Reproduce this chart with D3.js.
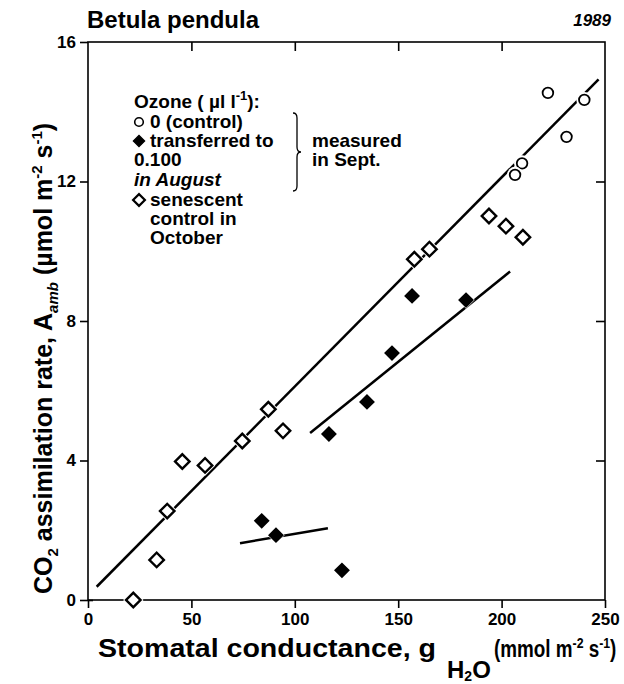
<!DOCTYPE html>
<html>
<head>
<meta charset="utf-8">
<script src="https://cdn.jsdelivr.net/npm/d3@7"></script>
<style>
  body { margin: 0; background: #fff; }
  svg { font-family: "Liberation Sans", Arial, sans-serif; font-weight: bold; }
</style>
</head>
<body>
<div id="chart"></div>
<script>
// stomatal conductance (x) and CO2 assimilation (y)
const controlG = [222.4, 240.0, 231.4, 209.9, 206.5];
const controlA = [14.54, 14.34, 13.28, 12.52, 12.19];

const ozoneG = [84.0, 90.9, 122.8, 116.5, 134.9, 147.0, 156.7, 182.8];
const ozoneA = [2.27, 1.86, 0.85, 4.76, 5.68, 7.08, 8.72, 8.60];

const senescG = [21.9, 33.2, 38.3, 45.6, 56.6, 74.6, 87.2, 94.3, 157.8, 165.1, 193.9, 202.1, 210.3];
const senescA = [0, 1.15, 2.55, 3.97, 3.86, 4.56, 5.47, 4.85, 9.77, 10.06, 11.01, 10.72, 10.40];

// regression lines, end points
const fitMain = [[4.2, 0.38], [246.9, 14.93]];
const fitAug = [[107.4, 4.79], [204.1, 9.42]];
const fitLow = [[73.5, 1.63], [116, 2.06]];

const xTicks = [0, 50, 100, 150, 200, 250];
const yTicks = [0, 4, 8, 12, 16];

const W = 624, H = 684;
const m = { left: 88, right: 19, top: 42, bottom: 84 };

const svg = d3.select("#chart").append("svg")
    .attr("width", W).attr("height", H);

const x = d3.scaleLinear().domain([0, 250]).range([m.left, W - m.right]);
const y = d3.scaleLinear().domain([0, 16]).range([H - m.bottom, m.top]);

// frame
svg.append("rect")
    .attr("x", x(0)).attr("y", y(16))
    .attr("width", x(250) - x(0)).attr("height", y(0) - y(16))
    .attr("fill", "none").attr("stroke", "#000").attr("stroke-width", 1.6);

// axes
const xAxis = svg.append("g").attr("transform", `translate(0,${y(0)})`)
    .call(d3.axisBottom(x).tickValues(xTicks).tickSize(8).tickPadding(5));
const yAxis = svg.append("g").attr("transform", `translate(${x(0)},0)`)
    .call(d3.axisLeft(y).tickValues(yTicks).tickSize(8).tickPadding(4));
svg.append("g").attr("transform", `translate(0,${y(16)})`)
    .call(d3.axisBottom(x).tickValues(xTicks.slice(1, -1)).tickSize(9).tickFormat(""));
svg.append("g").attr("transform", `translate(${x(250)},0)`)
    .call(d3.axisLeft(y).tickValues(yTicks.slice(1, -1)).tickSize(9).tickFormat(""));

svg.selectAll(".domain").remove();
svg.selectAll(".tick line").attr("stroke", "#000").attr("stroke-width", 1.6);
svg.selectAll(".tick text").attr("fill", "#000")
    .style("font-size", "17px").style("font-weight", "bold");
yAxis.selectAll(".tick").filter(d => d === 0).select("line").attr("x2", 5).attr("x1", -8);

// fit lines
const line = d3.line().x(d => x(d[0])).y(d => y(d[1]));
svg.selectAll(".fit").data([fitMain, fitAug, fitLow]).enter()
    .append("path")
    .attr("d", line)
    .attr("fill", "none").attr("stroke", "#000").attr("stroke-width", 2.5);

const diamond = d3.symbol().type(d3.symbolSquare);

function drawSet(gs, as, kind) {
  const pts = gs.map((g, i) => [g, as[i]]);
  const grp = svg.append("g");
  pts.forEach(p => {
    const px = x(p[0]), py = y(p[1]);
    if (kind === "circle") {
      grp.append("circle").attr("cx", px).attr("cy", py).attr("r", 8).attr("fill", "#fff");
      grp.append("circle").attr("cx", px).attr("cy", py).attr("r", 5.3)
          .attr("fill", "#fff").attr("stroke", "#000").attr("stroke-width", 1.8);
    } else {
      grp.append("path").attr("d", diamond.size(kind === "open" ? 210 : 150)())
          .attr("transform", `translate(${px},${py}) rotate(45)`)
          .attr("fill", "#fff");
      grp.append("path").attr("d", diamond.size(kind === "open" ? 105 : 78)())
          .attr("transform", `translate(${px},${py}) rotate(45)`)
          .attr("fill", kind === "open" ? "#fff" : "#000")
          .attr("stroke", "#000").attr("stroke-width", 2.4);
    }
  });
}
drawSet(senescG, senescA, "open");
drawSet(ozoneG, ozoneA, "filled");
drawSet(controlG, controlA, "circle");

// title
svg.append("text").attr("x", 87).attr("y", 28)
    .style("font-size", "24px").text("Betula pendula");
svg.append("text").attr("x", 611).attr("y", 26).attr("text-anchor", "end")
    .style("font-size", "17px").style("font-style", "italic").text("1989");

// legend
const lg = svg.append("g").style("font-size", "19px");
const t0 = lg.append("text").attr("x", 134).attr("y", 108);
t0.append("tspan").text("Ozone ( \u00b5l l");
t0.append("tspan").attr("dy", -8).style("font-size", "13px").text("-1");
t0.append("tspan").attr("dy", 8).text("):");

const rows = [
  { t: "0 (control)", yy: 128, x0: 150 },
  { t: "transferred to", yy: 147, x0: 150 },
  { t: "0.100", yy: 166, x0: 134 },
  { t: "in August", yy: 186, x0: 134, it: true },
  { t: "senescent", yy: 206, x0: 150 },
  { t: "control in", yy: 225, x0: 150 },
  { t: "October", yy: 244, x0: 150 }
];
rows.forEach(r => {
  lg.append("text").attr("x", r.x0).attr("y", r.yy)
    .style("font-style", r.it ? "italic" : "normal").text(r.t);
});
lg.append("circle").attr("cx", 139).attr("cy", 122).attr("r", 4.3)
    .attr("fill", "#fff").attr("stroke", "#000").attr("stroke-width", 1.6);
lg.append("path").attr("d", diamond.size(60)())
    .attr("transform", "translate(139,141) rotate(45)")
    .attr("fill", "#000").attr("stroke", "#000").attr("stroke-width", 1.5);
lg.append("path").attr("d", diamond.size(70)())
    .attr("transform", "translate(139,200) rotate(45)")
    .attr("fill", "#fff").attr("stroke", "#000").attr("stroke-width", 2.2);

// brace
const bx = 293, by0 = 113, by1 = 191, bm = (by0 + by1) / 2;
lg.append("path")
    .attr("d", `M${bx},${by0} q4,0 4,5 L${bx + 4},${bm - 5} q0,5 4,5 q-4,0 -4,5 L${bx + 4},${by1 - 5} q0,5 -4,5`)
    .attr("fill", "none").attr("stroke", "#000").attr("stroke-width", 1.3);
lg.append("text").attr("x", 312).attr("y", 147).text("measured");
lg.append("text").attr("x", 312).attr("y", 166).text("in Sept.");

// x label, in three pieces
svg.append("text").attr("x", 98).attr("y", 657)
    .attr("textLength", 338).attr("lengthAdjust", "spacingAndGlyphs")
    .style("font-size", "25px").text("Stomatal conductance, g");
const xh = svg.append("text").attr("x", 447).attr("y", 678).style("font-size", "24px");
xh.append("tspan").text("H");
xh.append("tspan").attr("dy", 3).style("font-size", "14px").text("2");
xh.append("tspan").attr("dy", -3).text("O");
const xu = svg.append("text")
    .attr("transform", "translate(494,657) scale(0.82,1)")
    .style("font-size", "23px");
xu.append("tspan").text("(mmol m");
xu.append("tspan").attr("dy", -9).style("font-size", "15px").text("-2");
xu.append("tspan").attr("dy", 9).text(" s");
xu.append("tspan").attr("dy", -9).style("font-size", "15px").text("-1");
xu.append("tspan").attr("dy", 9).text(")");

// y label
const yl = svg.append("text")
    .attr("transform", "translate(52,594) rotate(-90)")
    .style("font-size", "25px");
yl.append("tspan").text("CO");
yl.append("tspan").attr("dy", 6).style("font-size", "15px").text("2");
yl.append("tspan").attr("dy", -6).text(" assimilation rate, A");
yl.append("tspan").attr("dy", 6).style("font-size", "15px").style("font-style", "italic").text("amb");
yl.append("tspan").attr("dy", -6).text(" (\u00b5mol m");
yl.append("tspan").attr("dy", -10).style("font-size", "15px").text("-2");
yl.append("tspan").attr("dy", 10).text(" s");
yl.append("tspan").attr("dy", -10).style("font-size", "15px").text("-1");
yl.append("tspan").attr("dy", 10).text(")");
</script>
</body>
</html>
